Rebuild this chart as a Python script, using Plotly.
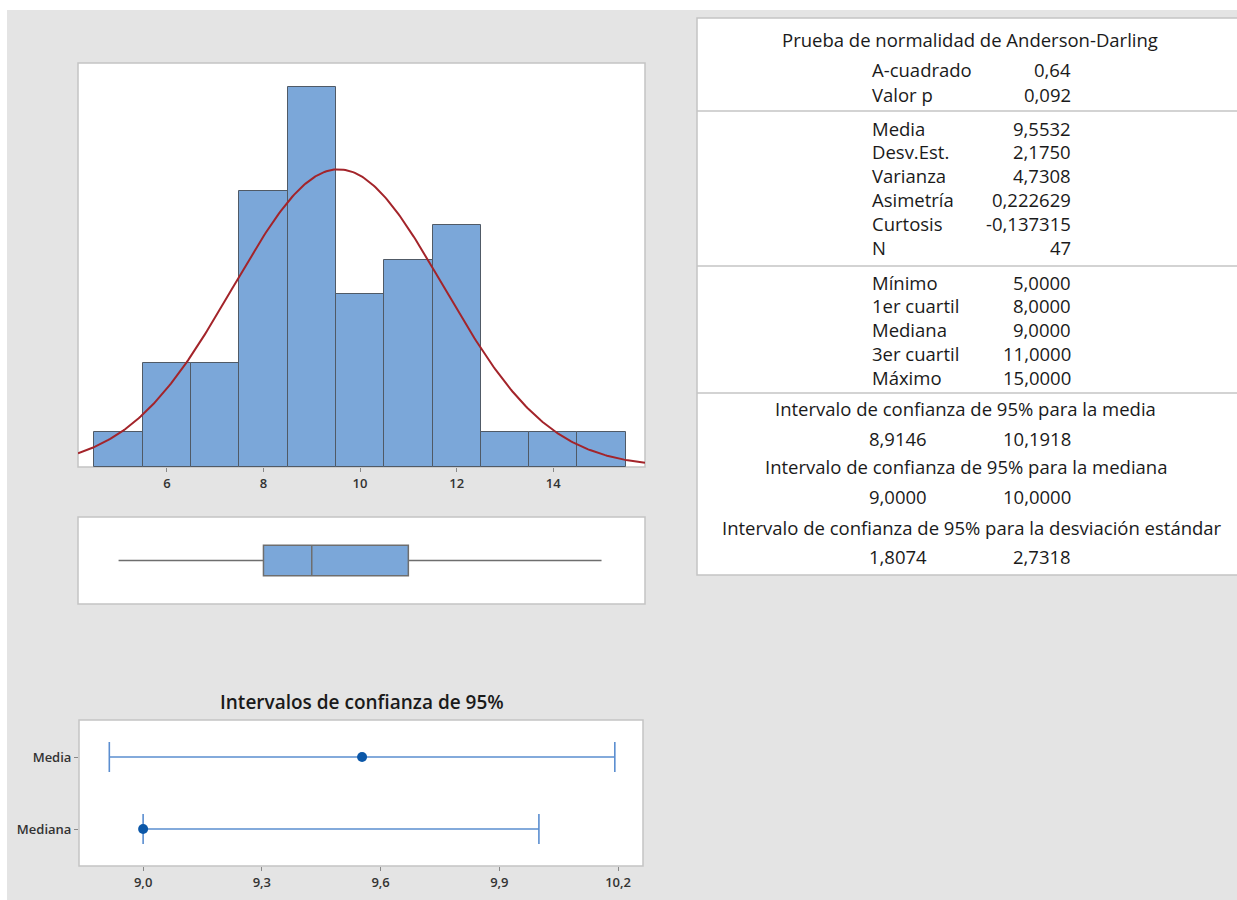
import numpy as np
import plotly.graph_objects as go

# ---------------- data ----------------
bin_centers = [5, 6, 7, 8, 9, 10, 11, 12, 13, 14, 15]
bin_counts = [1, 3, 3, 8, 11, 5, 6, 7, 1, 1, 1]
hist_ticks = [6, 8, 10, 12, 14]

mean_val = 9.5532
sd_val = 2.1750
n_val = 47

box_min = 5.0
box_q1 = 8.0
box_median = 9.0
box_q3 = 11.0
box_max = 15.0

ci_labels = ["Media", "Mediana"]
ci_est = [9.5532, 9.0]
ci_low = [8.9146, 9.0]
ci_high = [10.1918, 10.0]
ci_ticks = [9.0, 9.3, 9.6, 9.9, 10.2]
ci_ticklabels = ["9,0", "9,3", "9,6", "9,9", "10,2"]

ad_title = "Prueba de normalidad de Anderson-Darling"
ad_labels = ["A-cuadrado", "Valor p"]
ad_values = ["0,64", "0,092"]
desc_labels = ["Media", "Desv.Est.", "Varianza", "Asimetría", "Curtosis", "N"]
desc_values = ["9,5532", "2,1750", "4,7308", "0,222629", "-0,137315", "47"]
quant_labels = ["Mínimo", "1er cuartil", "Mediana", "3er cuartil", "Máximo"]
quant_values = ["5,0000", "8,0000", "9,0000", "11,0000", "15,0000"]
ci_titles = ["Intervalo de confianza de 95% para la media",
             "Intervalo de confianza de 95% para la mediana",
             "Intervalo de confianza de 95% para la desviación estándar"]
ci_table_low = ["8,9146", "9,0000", "1,8074"]
ci_table_high = ["10,1918", "10,0000", "2,7318"]

# ---------------- layout helpers ----------------
W, H = 1237, 900
def px(x):
    return x / W
def py(y):
    return 1 - y / H

FONT = "Open Sans"
TXT = "#1a1a1a"
BAR = "#7BA7D9"
BAR_LINE = "#505a66"
FRAME = "#c4c4c4"
BG = "#e4e4e4"

fig = go.Figure()

# histogram bars
fig.add_trace(go.Bar(x=bin_centers, y=bin_counts, width=1,
                     marker=dict(color=BAR, line=dict(color=BAR_LINE, width=1)),
                     xaxis="x", yaxis="y", showlegend=False, hoverinfo="skip"))
# fitted normal curve
xr = [4.16, 15.9]
xs = np.linspace(xr[0], xr[1], 300)
ys = n_val * 1.0 / (sd_val * np.sqrt(2 * np.pi)) * np.exp(-0.5 * ((xs - mean_val) / sd_val) ** 2)
fig.add_trace(go.Scatter(x=xs, y=ys, mode="lines", line=dict(color="#A3242A", width=2),
                         xaxis="x", yaxis="y", showlegend=False, hoverinfo="skip"))

# boxplot
fig.add_trace(go.Box(y=[0], q1=[box_q1], median=[box_median], q3=[box_q3],
                     lowerfence=[box_min], upperfence=[box_max], orientation="h",
                     width=1.05, whiskerwidth=0, fillcolor=BAR,
                     line=dict(color="#6e6e6e", width=1.5),
                     xaxis="x2", yaxis="y2", showlegend=False, hoverinfo="skip"))

# confidence intervals
fig.add_trace(go.Scatter(
    x=ci_est, y=ci_labels, mode="markers",
    marker=dict(color="#0B57A8", size=10),
    error_x=dict(type="data", symmetric=False,
                 array=[h - e for h, e in zip(ci_high, ci_est)],
                 arrayminus=[e - l for e, l in zip(ci_est, ci_low)],
                 color="#5B8ED0", thickness=1.6, width=15),
    xaxis="x3", yaxis="y3", showlegend=False, hoverinfo="skip"))

shapes = []
# gray page background
shapes.append(dict(type="rect", xref="paper", yref="paper", x0=px(7), x1=px(W + 5), y0=py(H + 5), y1=py(10),
                   fillcolor=BG, line=dict(width=0), layer="below"))
# panel frames
for (x0, y0, x1, y1) in [(78, 63, 645, 467), (78, 517, 645, 604), (79, 720, 643, 866)]:
    shapes.append(dict(type="rect", xref="paper", yref="paper", x0=px(x0), x1=px(x1), y0=py(y1), y1=py(y0),
                       fillcolor="white", line=dict(color=FRAME, width=1.5), layer="below"))
# table frame
shapes.append(dict(type="rect", xref="paper", yref="paper", x0=px(697), x1=px(1245), y0=py(575), y1=py(18),
                   fillcolor="white", line=dict(color=FRAME, width=1.5), layer="below"))
for yy in [111, 266, 393]:
    shapes.append(dict(type="line", xref="paper", yref="paper", x0=px(697), x1=px(1245), y0=py(yy), y1=py(yy),
                       line=dict(color=FRAME, width=1.5)))

ann = []
def text(x, y, s, size=18.5, anchor="left", color=TXT, weight="normal"):
    ann.append(dict(x=px(x), y=py(y), xref="paper", yref="paper", text=s, showarrow=False,
                    xanchor=anchor, yanchor="middle",
                    font=dict(family=FONT, size=size, color=color, weight=weight)))

LX, RX = 870, 1073
text(970, 40, ad_title, anchor="center")
for i, (l, v) in enumerate(zip(ad_labels, ad_values)):
    text(LX, 70 + i * 24, l); text(RX, 70 + i * 24, v, anchor="right")
for i, (l, v) in enumerate(zip(desc_labels, desc_values)):
    text(LX, 128 + i * 23.8, l); text(RX, 128 + i * 23.8, v, anchor="right")
for i, (l, v) in enumerate(zip(quant_labels, quant_values)):
    text(LX, 282 + i * 23.8, l); text(RX, 282 + i * 23.8, v, anchor="right")
ci_title_y = [408, 467, 527]
ci_val_y = [438, 496, 556]
ci_title_x = [965, 966, 972]
for i in range(3):
    text(ci_title_x[i], ci_title_y[i], ci_titles[i], anchor="center")
    text(898, ci_val_y[i], ci_table_low[i], anchor="center")
    text(RX, ci_val_y[i], ci_table_high[i], anchor="right")

text(362, 702, "Intervalos de confianza de 95%", size=19, anchor="center", weight=600)

tickfont = dict(family=FONT, size=13, color="#333333", weight=600)
fig.update_layout(
    width=W, height=H, margin=dict(l=0, r=0, t=0, b=0),
    paper_bgcolor="white", plot_bgcolor="rgba(0,0,0,0)",
    shapes=shapes, annotations=ann, bargap=0,
    xaxis=dict(domain=[px(78), px(645)], range=xr, tickvals=hist_ticks, ticks="outside",
               ticklen=4, tickcolor="#888888", tickfont=tickfont, showgrid=False, zeroline=False,
               showline=False, anchor="y"),
    yaxis=dict(domain=[py(467), py(63)], range=[0, 11.7], visible=False, anchor="x"),
    xaxis2=dict(domain=[px(78), px(645)], range=xr, visible=False, anchor="y2"),
    yaxis2=dict(domain=[py(604), py(517)], range=[-1.5, 1.5], visible=False, anchor="x2"),
    xaxis3=dict(domain=[px(79), px(643)], range=[8.838, 10.263], tickvals=ci_ticks,
                ticktext=ci_ticklabels, ticks="outside", ticklen=4, tickcolor="#888888",
                tickfont=tickfont, showgrid=False, zeroline=False, anchor="y3"),
    yaxis3=dict(domain=[py(866), py(720)], type="category", categoryorder="array",
                categoryarray=["Mediana", "Media"], range=[-0.514, 1.514],
                ticks="outside", ticklen=4, tickcolor="#888888", tickfont=tickfont,
                showgrid=False, zeroline=False, anchor="x3"),
)

fig.write_html("out.html", config={"displayModeBar": False},
               post_script="document.body.style.margin='0';document.body.style.overflow='hidden';")
